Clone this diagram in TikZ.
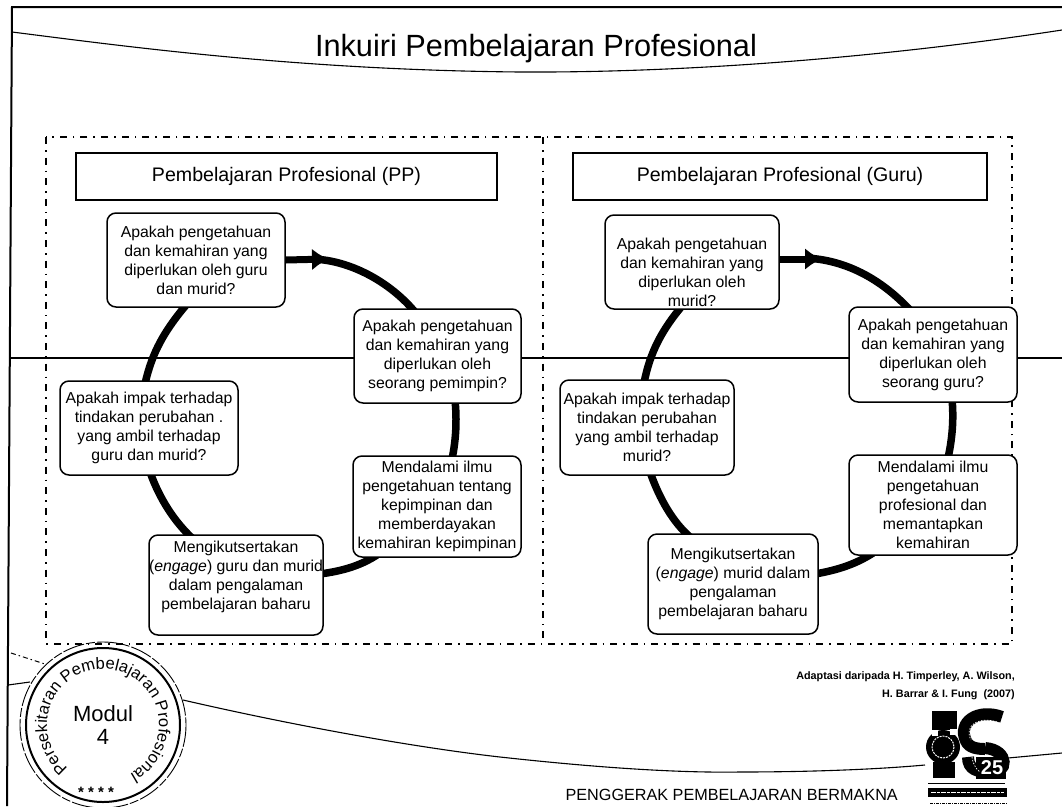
\documentclass[tikz,border=0pt]{standalone}
\usepackage{fontspec}
\setmainfont{Liberation Sans}
\usetikzlibrary{arrows.meta,decorations.text}
\newcommand{\stampfont}{\fontsize{16.5}{17}\selectfont}
\tikzset{
  frameline/.style={black,line width=2pt},
  thinline/.style={black,line width=1.1pt},
  panel/.style={black,line width=1.4pt,dash pattern=on 7pt off 6pt on 1.6pt off 6pt},
  headbox/.style={draw=black,line width=1.2pt,fill=white,minimum height=47pt,inner sep=0pt,font=\fontsize{19.6}{22}\selectfont},
  qbox/.style={draw=black,line width=1.5pt,fill=white,rounded corners=9pt,inner sep=0pt,align=center,font=\fontsize{15.8}{19}\selectfont},
  ring/.style={black,line width=7.5pt},
  ringarrow/.style={black,line width=7pt,-{Latex[length=17pt,width=22pt]}},
  stamp/.style={circle,draw=black,line width=2pt,fill=white,minimum size=154pt,inner sep=0pt,align=center,font=\fontsize{22}{23}\selectfont},
  logoarc/.style={black,line width=12pt},
  logotex/.style={white,line width=.7pt,dash pattern=on 1.5pt off 1.5pt}
}
\begin{document}
\begin{tikzpicture}[x=1pt,y=-1pt]
\useasboundingbox (0,0) rectangle (1062,806);
\fill[white] (0,0) rectangle (1062,806);

% page frame and swooshes
\draw[frameline] (1062,7) -- (12,7) -- (7,806);
\draw[thinline] (12,32) .. controls (130,47) and (300,70) .. (520,72) .. controls (700,73) and (900,55) .. (1062,30);
\draw[thinline] (9,358) -- (1062,358);
\draw[thinline] (183,700) .. controls (300,727) and (420,748) .. (500,757) .. controls (600,768) and (680,773) .. (740,772) .. controls (800,772) and (870,770) .. (925,765);
\draw[thinline] (1008,758) -- (1062,753);
\draw[thinline] (8,685) -- (30,682);
\draw[black,line width=1pt,dash pattern=on 5pt off 3pt on 1.5pt off 3pt] (11,653) -- (45,664);

% panels
\draw[panel] (46,137) rectangle (1012,644);
\draw[panel] (543,137) -- (543,644);

\node[font=\fontsize{30.7}{34}\selectfont] (title) at (536,49) {Inkuiri Pembelajaran Profesional};

\node[headbox,minimum width=421pt] (headL) at (286.5,176.5) {Pembelajaran Profesional (PP)};
\node[headbox,minimum width=414pt] (headR) at (780,176.5) {Pembelajaran Profesional (Guru)};

% ring end points on the boxes
\coordinate (a1h) at (329,259);
\coordinate (a1c) at (312,259);
\coordinate (a2n) at (415,312);
\coordinate (a2s) at (455,400);
\coordinate (a3n) at (452,459);
\coordinate (a3s) at (377,555);
\coordinate (a4e) at (320,574);
\coordinate (a4n) at (192,538);
\coordinate (a5s) at (150,472);
\coordinate (a5n) at (145,384);
\coordinate (a1s) at (187,304);
\coordinate (b1h) at (822,259);
\coordinate (b1c) at (806,258);
\coordinate (b2n) at (910,310);
\coordinate (b2s) at (952,399);
\coordinate (b3n) at (948,458);
\coordinate (b3s) at (873,553);
\coordinate (b4e) at (815,574);
\coordinate (b4n) at (690,537);
\coordinate (b5s) at (650,472);
\coordinate (b5n) at (644,383);
\coordinate (b1s) at (682,306);

% left ring
\draw[ring] (a1c) .. controls (350,260) and (390,282) .. (a2n);
\draw[ring] (a2s) .. controls (457,420) and (456,440) .. (a3n);
\draw[ring] (a3s) .. controls (360,566) and (342,571) .. (a4e);
\draw[ring] (a4n) .. controls (175,522) and (160,500) .. (a5s);
\draw[ring] (a5n) .. controls (152,352) and (165,330) .. (a1s);
% right ring
\draw[ring] (b1c) .. controls (845,260) and (880,278) .. (b2n);
\draw[ring] (b2s) .. controls (954,420) and (952,440) .. (b3n);
\draw[ring] (b3s) .. controls (856,564) and (838,570) .. (b4e);
\draw[ring] (b4n) .. controls (673,522) and (660,500) .. (b5s);
\draw[ring] (b5n) .. controls (650,352) and (662,330) .. (b1s);

% left cycle boxes
\node[qbox,minimum width=178pt,minimum height=94pt] (a1) at (196,260) {Apakah pengetahuan\\dan kemahiran yang\\diperlukan oleh guru\\dan murid?};
\node[qbox,minimum width=167pt,minimum height=94pt] (a2) at (437.5,356) {Apakah pengetahuan\\dan kemahiran yang\\diperlukan oleh\\seorang pemimpin?};
\node[qbox,minimum width=168pt,minimum height=101pt] (a3) at (437,506.5) {Mendalami ilmu\\pengetahuan tentang\\kepimpinan dan\\memberdayakan\\kemahiran kepimpinan};
\node[qbox,minimum width=174pt,minimum height=100pt] (a4) at (236,585) {Mengikutsertakan\\(\textit{engage}) guru dan murid\\dalam pengalaman\\pembelajaran baharu\\~};
\node[qbox,minimum width=178pt,minimum height=94pt] (a5) at (149,428) {Apakah impak terhadap\\tindakan perubahan .\\yang ambil terhadap\\guru dan murid?};

% right cycle boxes
\node[qbox,minimum width=174pt,minimum height=94pt] (b1) at (692,262) {\strut\\Apakah pengetahuan\\dan kemahiran yang\\diperlukan oleh\\murid?};
\node[qbox,minimum width=168pt,minimum height=95pt] (b2) at (933,354.5) {Apakah pengetahuan\\dan kemahiran yang\\diperlukan oleh\\seorang guru?};
\node[qbox,minimum width=168pt,minimum height=100pt] (b3) at (933,505) {Mendalami ilmu\\pengetahuan\\profesional dan\\memantapkan\\kemahiran};
\node[qbox,minimum width=170pt,minimum height=100pt] (b4) at (733,584) {Mengikutsertakan\\(\textit{engage}) murid dalam\\pengalaman\\pembelajaran baharu};
\node[qbox,minimum width=174pt,minimum height=95pt] (b5) at (647,427.5) {Apakah impak terhadap\\tindakan perubahan\\yang ambil terhadap\\murid?};

% arrow heads leaving the top boxes
\draw[ringarrow] (a1.east) -- (a1h);
\draw[ringarrow] (b1.east |- b1h) -- (b1h);

% credit and footer
\node[anchor=east,align=right,font=\bfseries\fontsize{10.8}{17.7}\selectfont,inner sep=0pt] (credit) at (1015,686) {Adaptasi daripada H. Timperley, A. Wilson,\\H. Barrar \& I. Fung\ \ (2007)};
\node[anchor=east,font=\fontsize{16.2}{18}\selectfont,inner sep=0pt] (footer) at (898,795) {PENGGERAK PEMBELAJARAN BERMAKNA};

% stamp
\draw[black,line width=.9pt,dash pattern=on 22pt off 2pt on 9pt off 2pt] (103,725) circle[radius=83];
\node[stamp] (seal) at (103,725) {Modul\\4};
\path[decorate,decoration={text along path,text align=center,text={|\stampfont|Persekitaran Pembelajaran Profesional}}]
  (seal.center) ++(110:56) arc[start angle=110,end angle=440,radius=56];
\node[font=\bfseries\fontsize{15}{15}\selectfont,inner sep=0pt] (stars) at (96,792) {* * * *};

% logo
\fill[black] (932,711) rectangle (957,730);
\fill[black] (943,747) circle[radius=17];
\fill[black] (933,762) rectangle (955,778);
\draw[white,line width=1pt,dash pattern=on 2pt off 1pt] (943,747) circle[radius=11];
\fill[white] (932,730) rectangle (938,736);
\fill[white] (950,729) rectangle (957,735);
\draw[logoarc] (1002,717) .. controls (978,708) and (957,722) .. (966,741) .. controls (969,748) and (978,749) .. (985,749);
\draw[logoarc] (985,748) .. controls (1010,750) and (1008,775) .. (990,772) .. controls (978,772) and (968,770) .. (968,757);
\fill[black] (976,757) rectangle (1006,779);
\draw[logotex] (1000,723) .. controls (980,715) and (963,725) .. (971,740);
\draw[logotex] (972,757) .. controls (973,765) and (977,770) .. (980,772);
\node[font=\bfseries\fontsize{20}{20}\selectfont,text=white,inner sep=0pt] (n25) at (992,768) {25};
\draw[black,line width=1pt] (928,783) -- (1005,783);
\fill[black] (928,788) rectangle (1007,797);
\draw[white,line width=1.2pt,dash pattern=on 5pt off 1pt on 3pt off 1pt] (931,792.5) -- (1004,792.5);
\draw[black,line width=1pt,dash pattern=on 3pt off 1pt on 1pt off 1pt] (930,803) -- (1008,803);
\end{tikzpicture}
\end{document}
